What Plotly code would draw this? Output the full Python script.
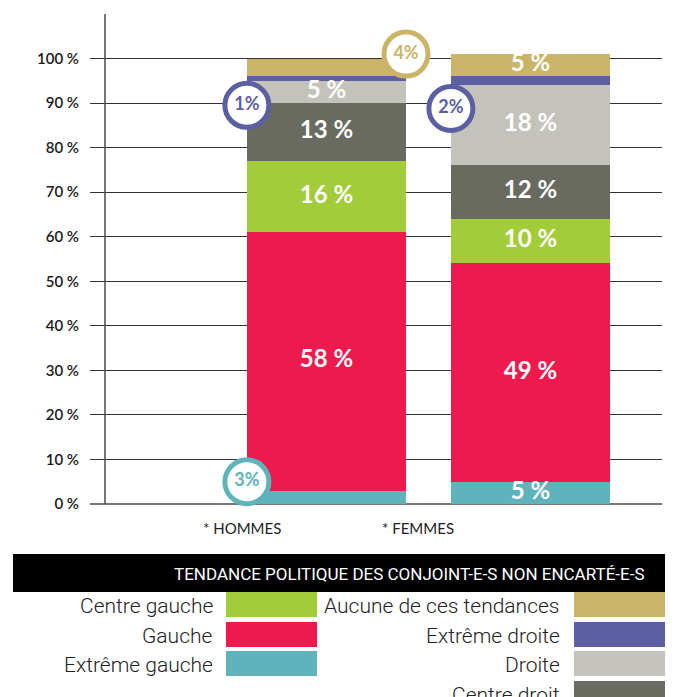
import plotly.graph_objects as go

# --- data -------------------------------------------------------------
groups = ["* HOMMES", "* FEMMES"]
series = ["Extrême gauche", "Gauche", "Centre gauche", "Centre droit",
          "Droite", "Extrême droite", "Aucune de ces tendances"]
hommes = [3, 58, 16, 13, 5, 1, 4]
femmes = [5, 49, 10, 12, 18, 2, 5]
colors = ["#5fb4bb", "#ee1a4e", "#a3cc3a", "#696b61",
          "#c4c3bb", "#5c5fa2", "#c9b467"]
tick_vals = [0, 10, 20, 30, 40, 50, 60, 70, 80, 90, 100]
tick_text = [f"{v} %" for v in tick_vals]
legend_left = ["Centre gauche", "Gauche", "Extrême gauche"]
legend_right = ["Aucune de ces tendances", "Extrême droite", "Droite", "Centre droit"]
legend_title = "TENDANCE POLITIQUE DES CONJOINT-E-S NON ENCARTÉ-E-S"

# small segments get a round callout instead of an inside label
CALLOUT_MAX = 4
# callout placement: (group index, series index) -> (side, y)
callout_pos = {
    (0, 0): (-1, 5.0),
    (0, 5): (-1, 89.5),
    (0, 6): (1, 101.0),
    (1, 5): (-1, 88.8),
}

W, H = 678, 697
L, R, T, B = 90, 16, 14, 193
BAR_W = 0.78
FONT = "Lato"


def px_x(px):
    return (px - L) / (W - L - R)


def px_y(py):
    return (H - B - py) / (H - T - B)


values = [hommes, femmes]
positions = list(range(len(groups)))
fig = go.Figure()

for s, name in enumerate(series):
    fig.add_trace(go.Bar(
        x=positions, y=[v[s] for v in values], name=name,
        marker=dict(color=colors[s], line=dict(width=0)),
        width=BAR_W, showlegend=False, hoverinfo="skip",
    ))

# inside labels and callouts
lab_x, lab_y, lab_t = [], [], []
for g, vals in zip(positions, values):
    base = 0
    for s, v in enumerate(vals):
        mid = base + v / 2
        if v > CALLOUT_MAX:
            lab_x.append(g)
            lab_y.append(mid)
            lab_t.append(f"<b>{v} %</b>")
        else:
            side, cy = callout_pos[(g, s)]
            fig.add_trace(go.Scatter(
                x=[g + side * BAR_W / 2], y=[cy], mode="markers+text",
                text=[f"<b>{v}%</b>"], textposition="middle center",
                textfont=dict(family=FONT, size=18, color=colors[s]),
                marker=dict(symbol="circle", size=44, color="white",
                            line=dict(color=colors[s], width=5)),
                showlegend=False, hoverinfo="skip", cliponaxis=False,
            ))
        base += v

fig.add_trace(go.Scatter(
    x=lab_x, y=lab_y, text=lab_t, mode="text",
    textposition="middle center",
    textfont=dict(family=FONT, size=24, color="white"),
    showlegend=False, hoverinfo="skip",
))

# vertical axis line
fig.add_shape(type="line", xref="paper", yref="paper",
              x0=px_x(105), x1=px_x(105), y0=0, y1=1,
              line=dict(color="#4a4a4a", width=1.5))

# group labels
group_px = [241.5, 418]
for name, gx in zip(groups, group_px):
    fig.add_annotation(xref="paper", yref="paper", x=px_x(gx), y=px_y(528),
                       text=name, showarrow=False, xanchor="center",
                       yanchor="middle",
                       font=dict(family=FONT, size=15, color="#222"))

# legend block
fig.add_shape(type="rect", xref="paper", yref="paper",
              x0=px_x(13), x1=px_x(665), y0=px_y(592), y1=px_y(554),
              fillcolor="black", line=dict(width=0), layer="above")
fig.add_annotation(xref="paper", yref="paper", x=px_x(646), y=px_y(574),
                   text=legend_title, showarrow=False, xanchor="right",
                   yanchor="middle",
                   font=dict(family="Liberation Sans Narrow, Roboto", size=17,
                             color="white"))

row_top = [592, 622, 651, 681]
row_h = 25
for col, names, text_x, sw_x0, sw_x1 in [
    (0, legend_left, 215, 226, 317),
    (1, legend_right, 562, 574, 665),
]:
    for i, name in enumerate(names):
        c = colors[series.index(name)]
        y0 = row_top[i]
        fig.add_shape(type="rect", xref="paper", yref="paper",
                      x0=px_x(sw_x0), x1=px_x(sw_x1),
                      y0=px_y(y0 + row_h), y1=px_y(y0),
                      fillcolor=c, line=dict(width=0), layer="above")
        fig.add_annotation(xref="paper", yref="paper", x=px_x(text_x),
                           y=px_y(y0 + row_h / 2 + 1.5), text=name,
                           showarrow=False, xanchor="right", yanchor="middle",
                           font=dict(family="Roboto", size=21, color="#222",
                                     weight=300))

fig.update_layout(
    width=W, height=H, barmode="stack", bargap=0,
    margin=dict(l=L, r=R, t=T, b=B, pad=0),
    paper_bgcolor="white", plot_bgcolor="white",
    xaxis=dict(range=[-1.159, 1.645], showticklabels=False,
               showgrid=False, zeroline=False, showline=False, fixedrange=True),
    yaxis=dict(range=[0, 110], tickvals=tick_vals, ticktext=tick_text,
               showgrid=True, gridcolor="#333", gridwidth=1,
               zeroline=True, zerolinecolor="#777", zerolinewidth=2,
               showline=False, ticks="", ticklabelstandoff=10,
               tickfont=dict(family=FONT, size=15, color="#1a1a1a", weight=600),
               fixedrange=True),
)

fig.write_html("out.html")
